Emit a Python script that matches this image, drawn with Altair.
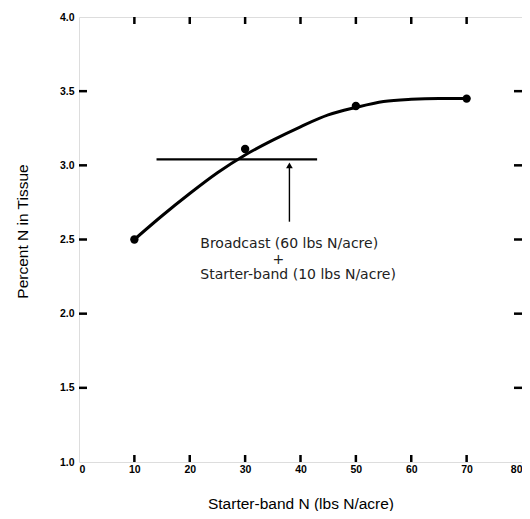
import altair as alt
import pandas as pd

# Measured points
pt_x = [10, 30, 50, 70]
pt_y = [2.50, 3.11, 3.40, 3.45]

# Smooth fitted curve
curve_x = [10, 15, 20, 25, 30, 35, 40, 45, 50, 55, 60, 65, 70]
curve_y = [2.50, 2.66, 2.81, 2.95, 3.07, 3.17, 3.26, 3.34, 3.39, 3.43, 3.445, 3.45, 3.45]

# Reference (broadcast + starter) line and arrow
ref_x1, ref_x2, ref_y = 14, 43, 3.04
arrow_x, arrow_y1, arrow_y2 = 38, 2.62, 3.0

ann_x = [21.9, 36.0, 21.9]
ann_y = [2.469, 2.361, 2.26]
ann_text = ["Broadcast (60 lbs N/acre)", "+", "Starter-band (10 lbs N/acre)"]
ann_align = ["left", "center", "left"]

x_ticks = [0, 10, 20, 30, 40, 50, 60, 70, 80]
y_ticks = [1.0, 1.5, 2.0, 2.5, 3.0, 3.5, 4.0]

W, H = 443, 445
FONT = "DejaVu Sans"

xs = alt.Scale(domain=[0, 80], nice=False)
ys = alt.Scale(domain=[1.0, 4.0], nice=False)

pts = pd.DataFrame({"x": pt_x, "y": pt_y})
crv = pd.DataFrame({"x": curve_x, "y": curve_y})
ref = pd.DataFrame({"x": [ref_x1], "x2": [ref_x2], "y": [ref_y]})
arr = pd.DataFrame({"x": [arrow_x], "y": [arrow_y1], "y2": [arrow_y2]})
ann = pd.DataFrame({"x": ann_x, "y": ann_y, "t": ann_text, "a": ann_align})
xt = pd.DataFrame({"x": x_ticks[1:-1]})
yt = pd.DataFrame({"y": y_ticks[1:-1]})

base_x = alt.X("x:Q", scale=xs, title="Starter-band N (lbs N/acre)",
               axis=alt.Axis(values=x_ticks, format=".0f", tickSize=0, domain=False,
                             grid=False, labelPadding=2, labelFontWeight="bold",
                             labelFontSize=10.5, titleFontSize=15.5, titleFontWeight="normal",
                             titleY=41, titleBaseline="middle"))
base_y = alt.Y("y:Q", scale=ys, title="Percent N in Tissue",
               axis=alt.Axis(values=y_ticks, format=".1f", tickSize=0, domain=False,
                             grid=False, labelPadding=5, labelFontWeight="bold",
                             labelFontSize=10.5, titleFontSize=15.5, titleFontWeight="normal",
                             titleX=-57, titleY=214, titleAngle=-90,
                             titleBaseline="middle", titleAlign="center"))

curve = alt.Chart(crv).mark_line(interpolate="monotone", color="black", strokeWidth=3).encode(
    x=base_x, y=base_y)
points = alt.Chart(pts).mark_circle(color="black", size=70, opacity=1).encode(
    x=alt.X("x:Q", scale=xs), y=alt.Y("y:Q", scale=ys))
refline = alt.Chart(ref).mark_rule(color="black", strokeWidth=2.2).encode(
    x=alt.X("x:Q", scale=xs), x2="x2:Q", y=alt.Y("y:Q", scale=ys))
shaft = alt.Chart(arr).mark_rule(color="black", strokeWidth=1.4).encode(
    x=alt.X("x:Q", scale=xs), y=alt.Y("y:Q", scale=ys), y2="y2:Q")
head = alt.Chart(arr).mark_point(shape="triangle-up", filled=True, color="black",
                                 size=45, opacity=1).encode(
    x=alt.X("x:Q", scale=xs), y=alt.Y("y2:Q", scale=ys))
text_l = alt.Chart(ann).transform_filter(alt.datum.a == "left").mark_text(
    font=FONT, fontSize=14, color="#222", align="left").encode(
    x=alt.X("x:Q", scale=xs), y=alt.Y("y:Q", scale=ys), text="t:N")
text_c = alt.Chart(ann).transform_filter(alt.datum.a == "center").mark_text(
    font=FONT, fontSize=14, color="#222", align="center").encode(
    x=alt.X("x:Q", scale=xs), y=alt.Y("y:Q", scale=ys), text="t:N")

tk = dict(color="black", strokeWidth=2.5)
tick_b = alt.Chart(xt).mark_rule(**tk).encode(
    x=alt.X("x:Q", scale=xs), y=alt.value(H), y2=alt.value(H - 7))
tick_t = alt.Chart(xt).mark_rule(**tk).encode(
    x=alt.X("x:Q", scale=xs), y=alt.value(0), y2=alt.value(7))
tick_l = alt.Chart(yt).mark_rule(**tk).encode(
    y=alt.Y("y:Q", scale=ys), x=alt.value(0), x2=alt.value(8))
tick_r = alt.Chart(yt).mark_rule(**tk).encode(
    y=alt.Y("y:Q", scale=ys), x=alt.value(W), x2=alt.value(W - 8))

chart = alt.layer(curve, points, refline, shaft, head, text_l, text_c,
                  tick_b, tick_t, tick_l, tick_r).properties(
    width=W, height=H, autosize="none",
    padding={"left": 71, "top": 9, "right": 0, "bottom": 49},
).configure_view(stroke="black", strokeWidth=2.5).configure_axis(
    labelFont=FONT, titleFont=FONT, labelColor="#111", titleColor="#111"
).configure(background="white")

chart.save("out.html", embed_options={"renderer": "svg", "actions": False})
